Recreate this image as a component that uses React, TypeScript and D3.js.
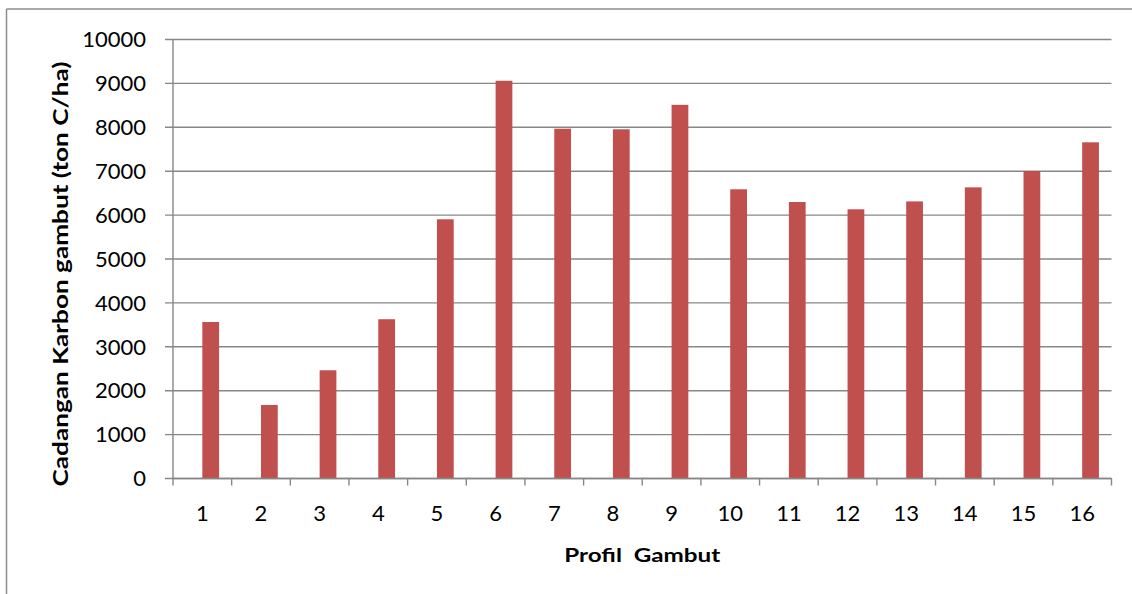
import React from "react";
import * as d3 from "d3";

const categories = ["1","2","3","4","5","6","7","8","9","10","11","12","13","14","15","16"];
const seriesNames = ["(kosong)", "Cadangan Karbon"];
const values = [3565, 1675, 2465, 3628, 5905, 9060, 7968, 7955, 8512, 6588, 6298, 6132, 6312, 6632, 7005, 7658];
const yTicks = [0, 1000, 2000, 3000, 4000, 5000, 6000, 7000, 8000, 9000, 10000];
const yTitle = "Cadangan Karbon gambut (ton C/ha)";
const xTitle = "Profil  Gambut";

const W = 1132, H = 594;
const plot = { left: 173, right: 1111.5, top: 39.5, bottom: 478.5 };
const font = "Lato, 'Open Sans', sans-serif";
const gridColor = "#878787";
const barColor = "#C0504D";

export default function App() {
  const x = d3.scaleBand<string>().domain(categories).range([plot.left, plot.right]).paddingInner(0).paddingOuter(0);
  const sub = d3.scaleBand<string>().domain(seriesNames).range([0, x.bandwidth()]).paddingInner(0).paddingOuter(0.75);
  const y = d3.scaleLinear().domain([0, 10000]).range([plot.bottom, plot.top]);
  const tickXs = categories.map((c) => x(c)!).concat([plot.right]);

  return (
    <svg width={W} height={H} style={{ position: "absolute", left: 0, top: 0, background: "#fff" }}>
      <rect x={0} y={0} width={W} height={H} fill="#fff" />
      {/* chart border */}
      <line x1={6.5} x2={W + 5} y1={9} y2={9} stroke="#8c8c8c" strokeWidth={1.5} />
      <line x1={6.5} x2={6.5} y1={9} y2={H + 5} stroke="#8c8c8c" strokeWidth={1.5} />
      {/* gridlines + y ticks */}
      {yTicks.map((t) => (
        <g key={t}>
          <line x1={plot.left - 8} x2={plot.right} y1={y(t)} y2={y(t)} stroke={gridColor} strokeWidth={1.4} />
          <text x={146} y={y(t)} dy="0.35em" textAnchor="end" fontFamily={font} fontSize={22} fill="#000">
            {t}
          </text>
        </g>
      ))}
      {/* y axis */}
      <line x1={plot.left} x2={plot.left} y1={plot.top} y2={plot.bottom} stroke={gridColor} strokeWidth={1.4} />
      {/* bars */}
      {values.map((v, i) => (
        <rect
          key={i}
          x={x(categories[i])! + sub(seriesNames[1])!}
          y={y(v)}
          width={sub.bandwidth()}
          height={plot.bottom - y(v)}
          fill={barColor}
        />
      ))}
      {/* x axis */}
      <line x1={plot.left} x2={plot.right} y1={plot.bottom} y2={plot.bottom} stroke={gridColor} strokeWidth={1.4} />
      {tickXs.map((tx, i) => (
        <line key={i} x1={tx} x2={tx} y1={plot.bottom} y2={plot.bottom + 7} stroke={gridColor} strokeWidth={1.4} />
      ))}
      {categories.map((c) => (
        <text key={c} x={x(c)! + x.bandwidth() / 2} y={513} dy="0.35em" textAnchor="middle" fontFamily={font} fontSize={22} fill="#000">
          {c}
        </text>
      ))}
      {/* axis titles */}
      <text
        transform={`translate(61,274) rotate(-90)`}
        textAnchor="middle"
        dy="0.35em"
        fontFamily={font}
        fontWeight="bold"
        fontSize={20}
        textLength={425}
        lengthAdjust="spacingAndGlyphs"
        fill="#000"
      >
        {yTitle}
      </text>
      <text
        x={(plot.left + plot.right) / 2}
        y={556}
        dy="0.35em"
        textAnchor="middle"
        fontFamily={font}
        fontWeight="bold"
        fontSize={18}
        textLength={156}
        lengthAdjust="spacingAndGlyphs"
        fill="#000"
        style={{ whiteSpace: "pre" }}
      >
        {xTitle}
      </text>
    </svg>
  );
}
